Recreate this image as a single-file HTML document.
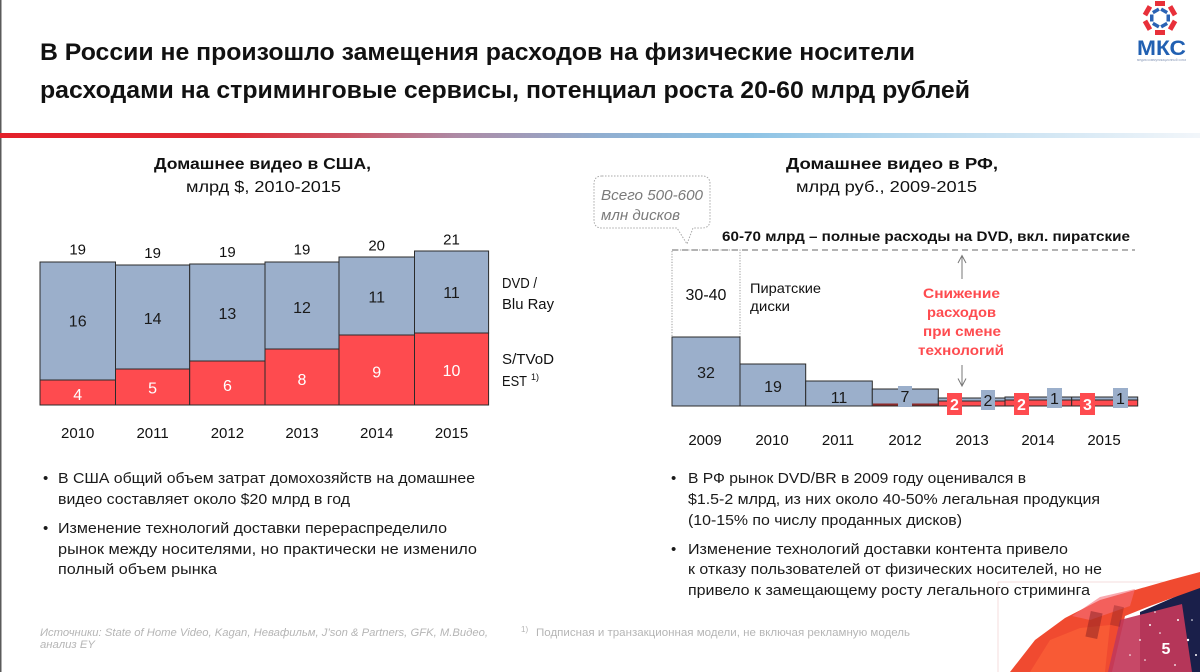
<!DOCTYPE html>
<html><head><meta charset="utf-8"><style>
html,body{margin:0;padding:0;background:#fff;}
svg{display:block;}
text{font-family:"Liberation Sans","Noto Sans CJK SC",sans-serif;}
</style></head><body>
<svg width="1200" height="672" viewBox="0 0 1200 672" xmlns="http://www.w3.org/2000/svg">
<defs>
<linearGradient id="hg" x1="0" x2="1" y1="0" y2="0">
<stop offset="0" stop-color="#e3202a"/>
<stop offset="0.19" stop-color="#e02a33"/>
<stop offset="0.29" stop-color="#cc5565"/>
<stop offset="0.38" stop-color="#ad8aa5"/>
<stop offset="0.5" stop-color="#90aed0"/>
<stop offset="0.62" stop-color="#8cc2e4"/>
<stop offset="0.75" stop-color="#b5d8ee"/>
<stop offset="1" stop-color="#f2f6fa"/>
</linearGradient>
</defs>
<rect width="1200" height="672" fill="#fff"/>
<rect x="0" y="0" width="1.5" height="672" fill="#5a5a5a"/>

<!-- Title -->
<text x="40" y="60" font-size="24" font-weight="bold" fill="#111" textLength="875" lengthAdjust="spacingAndGlyphs">В России не произошло замещения расходов на физические носители</text>
<text x="40" y="98" font-size="24" font-weight="bold" fill="#111" textLength="930" lengthAdjust="spacingAndGlyphs">расходами на стриминговые сервисы, потенциал роста 20-60 млрд рублей</text>
<rect x="0" y="133" width="1200" height="5" fill="url(#hg)"/>

<!-- Logo -->
<g transform="translate(1160,18)">
<g fill="#e8303a">
<rect x="-5" y="-17" width="10" height="5" transform="rotate(0)"/>
<rect x="-5" y="-17" width="10" height="5" transform="rotate(60)"/>
<rect x="-5" y="-17" width="10" height="5" transform="rotate(120)"/>
<rect x="-5" y="-17" width="10" height="5" transform="rotate(180)"/>
<rect x="-5" y="-17" width="10" height="5" transform="rotate(240)"/>
<rect x="-5" y="-17" width="10" height="5" transform="rotate(300)"/>
</g>
<g fill="#2a62b4">
<rect x="-3.5" y="-10" width="7" height="3.5" transform="rotate(30)"/>
<rect x="-3.5" y="-10" width="7" height="3.5" transform="rotate(90)"/>
<rect x="-3.5" y="-10" width="7" height="3.5" transform="rotate(150)"/>
<rect x="-3.5" y="-10" width="7" height="3.5" transform="rotate(210)"/>
<rect x="-3.5" y="-10" width="7" height="3.5" transform="rotate(270)"/>
<rect x="-3.5" y="-10" width="7" height="3.5" transform="rotate(330)"/>
</g>
</g>
<text x="1137" y="55" font-size="21" font-weight="bold" fill="#2160b2" textLength="49" lengthAdjust="spacingAndGlyphs">МКС</text>
<text x="1137" y="61" font-size="3.5" fill="#8a9ab8" textLength="49" lengthAdjust="spacingAndGlyphs">медиа коммуникационный союз</text>

<!-- Left chart titles -->
<text x="154" y="169" font-size="16" font-weight="bold" fill="#111" textLength="217" lengthAdjust="spacingAndGlyphs">Домашнее видео в США,</text>
<text x="186" y="192" font-size="16" fill="#111" textLength="155" lengthAdjust="spacingAndGlyphs">млрд $, 2010-2015</text>

<!-- Left bars -->
<g stroke="#2b2b2b" stroke-width="1">
<rect x="40" y="262" width="75.5" height="118" fill="#9bafcb"/>
<rect x="40" y="380" width="75.5" height="25" fill="#fe4b4f"/>
<rect x="115.5" y="265" width="74.2" height="104" fill="#9bafcb"/>
<rect x="115.5" y="369" width="74.2" height="36" fill="#fe4b4f"/>
<rect x="189.7" y="264" width="75.3" height="97" fill="#9bafcb"/>
<rect x="189.7" y="361" width="75.3" height="44" fill="#fe4b4f"/>
<rect x="265" y="262" width="74" height="87" fill="#9bafcb"/>
<rect x="265" y="349" width="74" height="56" fill="#fe4b4f"/>
<rect x="339" y="257" width="75.5" height="78" fill="#9bafcb"/>
<rect x="339" y="335" width="75.5" height="70" fill="#fe4b4f"/>
<rect x="414.5" y="251" width="74.1" height="82" fill="#9bafcb"/>
<rect x="414.5" y="333" width="74.1" height="72" fill="#fe4b4f"/>
</g>
<g font-size="15" fill="#111" text-anchor="middle">
<text x="77.7" y="254.5">19</text>
<text x="152.6" y="258">19</text>
<text x="227.4" y="257">19</text>
<text x="302" y="254.5">19</text>
<text x="376.7" y="250.5">20</text>
<text x="451.5" y="244.5">21</text>
</g>
<g font-size="16" fill="#1a1a1a" text-anchor="middle">
<text x="77.7" y="326.5">16</text>
<text x="152.6" y="324">14</text>
<text x="227.4" y="319">13</text>
<text x="302" y="313">12</text>
<text x="376.7" y="302.5">11</text>
<text x="451.5" y="298">11</text>
</g>
<g font-size="16" fill="#fff" text-anchor="middle">
<text x="77.7" y="400">4</text>
<text x="152.6" y="393.5">5</text>
<text x="227.4" y="391">6</text>
<text x="302" y="385">8</text>
<text x="376.7" y="377.5">9</text>
<text x="451.5" y="376">10</text>
</g>
<g font-size="15" fill="#111" text-anchor="middle">
<text x="77.7" y="438">2010</text>
<text x="152.6" y="438">2011</text>
<text x="227.4" y="438">2012</text>
<text x="302" y="438">2013</text>
<text x="376.7" y="438">2014</text>
<text x="451.5" y="438">2015</text>
</g>
<g font-size="15" fill="#111">
<text x="502" y="288" textLength="35" lengthAdjust="spacingAndGlyphs">DVD /</text>
<text x="502" y="309" textLength="52" lengthAdjust="spacingAndGlyphs">Blu Ray</text>
<text x="502" y="364" textLength="52" lengthAdjust="spacingAndGlyphs">S/TVoD</text>
<text x="502" y="386" textLength="25" lengthAdjust="spacingAndGlyphs">EST</text>
<text x="531" y="380" font-size="9">1)</text>
</g>

<!-- Right chart titles -->
<text x="786" y="169" font-size="16" font-weight="bold" fill="#111" textLength="212" lengthAdjust="spacingAndGlyphs">Домашнее видео в РФ,</text>
<text x="796" y="192" font-size="16" fill="#111" textLength="181" lengthAdjust="spacingAndGlyphs">млрд руб., 2009-2015</text>

<!-- Callout -->
<path d="M602,176 H702 Q710,176 710,184 V220 Q710,228 702,228 H693 L687,244 L677,228 H602 Q594,228 594,220 V184 Q594,176 602,176 Z" fill="#fff" stroke="#a8a8a8" stroke-width="1" stroke-dasharray="1.5,1.5"/>
<text x="601" y="200" font-size="15" font-style="italic" fill="#7a7a7a" textLength="102" lengthAdjust="spacingAndGlyphs">Всего 500-600</text>
<text x="601" y="220" font-size="15" font-style="italic" fill="#7a7a7a" textLength="79" lengthAdjust="spacingAndGlyphs">млн дисков</text>

<text x="722" y="241" font-size="14" font-weight="bold" fill="#111" textLength="408" lengthAdjust="spacingAndGlyphs">60-70 млрд – полные расходы на DVD, вкл. пиратские</text>
<line x1="672" y1="250" x2="1135" y2="250" stroke="#9a9a9a" stroke-width="1.5" stroke-dasharray="6,4"/>

<!-- pirate dotted box -->
<rect x="672" y="250" width="68" height="87" fill="none" stroke="#9a9a9a" stroke-width="1" stroke-dasharray="1.2,1.5"/>
<text x="706" y="300" font-size="16" fill="#111" text-anchor="middle">30-40</text>
<text x="750" y="293" font-size="14" fill="#111" textLength="71" lengthAdjust="spacingAndGlyphs">Пиратские</text>
<text x="750" y="311" font-size="14" fill="#111" textLength="40" lengthAdjust="spacingAndGlyphs">диски</text>

<!-- Right bars -->
<g stroke="#2b2b2b" stroke-width="1">
<rect x="672" y="337" width="68" height="69" fill="#9bafcb"/>
<rect x="740" y="364" width="65.7" height="42" fill="#9bafcb"/>
<rect x="805.7" y="381" width="66.6" height="25" fill="#9bafcb"/>
<rect x="872.3" y="389" width="66" height="17" fill="#9bafcb"/>
</g>
<rect x="873" y="403.5" width="65" height="2" fill="#8c2a2a"/>
<g stroke="#2b2b2b" stroke-width="1">
<rect x="938.3" y="401" width="66.7" height="5" fill="#fe4b4f"/>
<rect x="938.3" y="398" width="66.7" height="3" fill="#9bafcb"/>
<rect x="1005" y="400" width="66.7" height="6" fill="#fe4b4f"/>
<rect x="1005" y="397" width="66.7" height="3" fill="#9bafcb"/>
<rect x="1071.7" y="400" width="66" height="6" fill="#fe4b4f"/>
<rect x="1071.7" y="397" width="66" height="3" fill="#9bafcb"/>
</g>
<g font-size="16" fill="#1a1a1a" text-anchor="middle">
<text x="706" y="378">32</text>
<text x="773" y="392">19</text>
<text x="839" y="403">11</text>
</g>
<rect x="898" y="386" width="14" height="21" fill="#9bafcb"/>
<text x="905" y="402" font-size="16" fill="#1a1a1a" text-anchor="middle">7</text>
<g fill="#fe4b4f">
<rect x="947" y="393" width="15" height="22"/>
<rect x="1014" y="393" width="15" height="22"/>
<rect x="1080" y="393" width="15" height="22"/>
</g>
<g fill="#9bafcb">
<rect x="981" y="390" width="14" height="20"/>
<rect x="1047" y="388" width="15" height="20"/>
<rect x="1113" y="388" width="15" height="20"/>
</g>
<g font-size="16" font-weight="bold" fill="#fff" text-anchor="middle">
<text x="954.5" y="410">2</text>
<text x="1021.5" y="410">2</text>
<text x="1087.5" y="410">3</text>
</g>
<g font-size="16" fill="#1a1a1a" text-anchor="middle">
<text x="988" y="406">2</text>
<text x="1054.5" y="404">1</text>
<text x="1120.5" y="404">1</text>
</g>
<g font-size="15" fill="#111" text-anchor="middle">
<text x="705" y="445">2009</text>
<text x="772" y="445">2010</text>
<text x="838" y="445">2011</text>
<text x="905" y="445">2012</text>
<text x="972" y="445">2013</text>
<text x="1038" y="445">2014</text>
<text x="1104" y="445">2015</text>
</g>

<!-- arrows -->
<g stroke="#777" stroke-width="1" fill="none">
<line x1="962" y1="279" x2="962" y2="256"/>
<polyline points="958,263 962,255.5 966,263"/>
<line x1="962" y1="365" x2="962" y2="386"/>
<polyline points="958,378.5 962,386 966,378.5"/>
</g>
<g font-size="14" font-weight="bold" fill="#fe4b4f">
<text x="923" y="298" textLength="77" lengthAdjust="spacingAndGlyphs">Снижение</text>
<text x="927" y="317" textLength="69" lengthAdjust="spacingAndGlyphs">расходов</text>
<text x="923" y="336" textLength="78" lengthAdjust="spacingAndGlyphs">при смене</text>
<text x="918" y="355" textLength="86" lengthAdjust="spacingAndGlyphs">технологий</text>
</g>

<!-- Left bullets -->
<g font-size="15" fill="#1a1a1a">
<text x="43" y="483">•</text>
<text x="58" y="483" textLength="417" lengthAdjust="spacingAndGlyphs">В США общий объем затрат домохозяйств на домашнее</text>
<text x="58" y="504" textLength="292" lengthAdjust="spacingAndGlyphs">видео составляет около $20 млрд в год</text>
<text x="43" y="533">•</text>
<text x="58" y="533" textLength="389" lengthAdjust="spacingAndGlyphs">Изменение технологий доставки перераспределило</text>
<text x="58" y="554" textLength="419" lengthAdjust="spacingAndGlyphs">рынок между носителями, но практически не изменило</text>
<text x="58" y="574" textLength="159" lengthAdjust="spacingAndGlyphs">полный объем рынка</text>
</g>

<!-- Right bullets -->
<g font-size="15" fill="#1a1a1a">
<text x="671" y="483">•</text>
<text x="688" y="483" textLength="338" lengthAdjust="spacingAndGlyphs">В РФ рынок DVD/BR в 2009 году оценивался в</text>
<text x="688" y="504" textLength="412" lengthAdjust="spacingAndGlyphs">$1.5-2 млрд, из них около 40-50% легальная продукция</text>
<text x="688" y="525" textLength="274" lengthAdjust="spacingAndGlyphs">(10-15% по числу проданных дисков)</text>
<text x="671" y="554">•</text>
<text x="688" y="554" textLength="380" lengthAdjust="spacingAndGlyphs">Изменение технологий доставки контента привело</text>
<text x="688" y="574" textLength="414" lengthAdjust="spacingAndGlyphs">к отказу пользователей от физических носителей, но не</text>
<text x="688" y="595" textLength="402" lengthAdjust="spacingAndGlyphs">привело к замещающему росту легального стриминга</text>
</g>

<!-- Footnotes -->
<g font-size="11" fill="#b5b5b5">
<text x="40" y="636" font-style="italic" textLength="448" lengthAdjust="spacingAndGlyphs">Источники: State of Home Video, Kagan, Невафильм, J’son &amp; Partners, GFK, М.Видео,</text>
<text x="40" y="648" font-style="italic" textLength="55" lengthAdjust="spacingAndGlyphs">анализ EY</text>
<text x="521" y="632" font-size="8">1)</text>
<text x="536" y="636" textLength="374" lengthAdjust="spacingAndGlyphs">Подписная и транзакционная модели, не включая рекламную модель</text>
</g>

<!-- Decorative corner -->
<g>
<line x1="998" y1="582" x2="1200" y2="582" stroke="#f6dcdc" stroke-width="1"/>
<line x1="998" y1="582" x2="998" y2="672" stroke="#f6dcdc" stroke-width="1"/>
<polygon points="1140,612 1200,586 1200,672 1140,672" fill="#1a1f4a"/>
<polygon points="1010,672 1035,640 1065,618 1100,600 1135,590 1170,580 1200,572 1200,588 1150,606 1125,616 1112,672" fill="#f04a30"/>
<polygon points="1120,620 1182,604 1192,672 1108,672" fill="#c2385a" opacity="0.92"/>
<polygon points="1072,616 1100,597 1135,589 1130,606 1090,620" fill="#f5707a" opacity="0.6"/>
<polygon points="1030,672 1050,640 1080,628 1110,625 1105,672" fill="#ff6a3a" opacity="0.5"/>
<rect x="1088" y="612" width="12" height="26" fill="#7a1a20" opacity="0.45" transform="rotate(12 1094 625)"/>
<rect x="1112" y="606" width="10" height="20" fill="#7a1a20" opacity="0.35" transform="rotate(12 1117 616)"/>
<g fill="#fff">
<circle cx="1150" cy="625" r="1"/><circle cx="1160" cy="633" r="0.8"/><circle cx="1140" cy="640" r="0.9"/>
<circle cx="1178" cy="620" r="1"/><circle cx="1188" cy="640" r="1.2"/><circle cx="1196" cy="655" r="1"/>
<circle cx="1145" cy="660" r="0.8"/><circle cx="1175" cy="665" r="0.9"/><circle cx="1192" cy="620" r="0.8"/>
<circle cx="1130" cy="655" r="0.8"/><circle cx="1155" cy="612" r="0.8"/>
</g>
<text x="1166" y="654" font-size="16" font-weight="bold" fill="#fff" text-anchor="middle">5</text>
</g>
</svg>
</body></html>
